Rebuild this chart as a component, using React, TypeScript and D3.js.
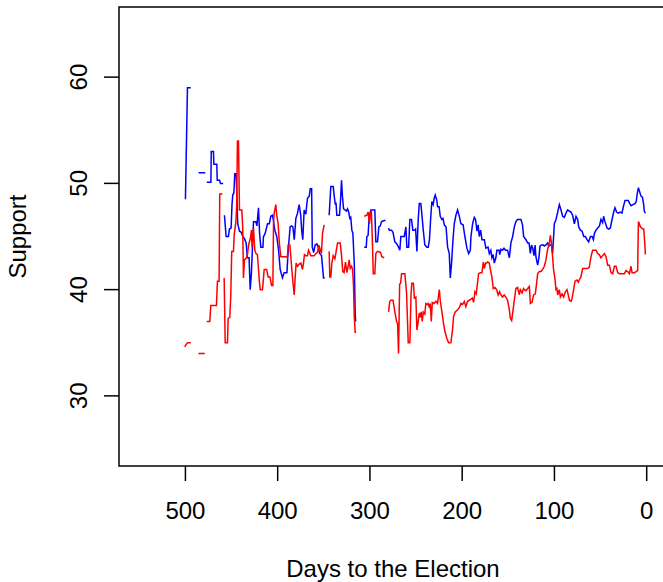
import React from "react";
import * as d3 from "d3";

type Pt = [number, number] | null;

// Democratic support (blue), [days to election, support]; null = gap
const demSeries: Pt[] = [
  [500, 48.5], [497.8, 59.0], [494.2, 59.0], null,
  [485.7, 51.0], [478.5, 51.0], null,
  [476.9, 50.1], [472.4, 50.1], [472, 53.0], [469.6, 53.0], [469.2, 51.8], [466, 51.8], [465.5, 50.3], [463, 50.3], [462, 50.0], [459.1, 50.0], null,
  [457.7, 47.0], [455.9, 45.0], [453.4, 45.0], [452.3, 45.7], [450.5, 45.8], [449.5, 48.0], [448.7, 48.9], [447.5, 49.1], [446.5, 50.9], [445, 50.9],
  [443.3, 46.2], [441.4, 45.5], [439.5, 45.4], [437.8, 45.0], [436, 44.8], [434.2, 44.4], [432.8, 43.0], [431, 43.0], [429.8, 40.0], [428.5, 41.5],
  [427.3, 44.0], [426.2, 46.4], [423.7, 46.4], [422.5, 46.0], [420.8, 47.7], [419.6, 45.3], [418.3, 44.0], [416, 44.0], [415.4, 45.0], [414, 45.2],
  [413, 45.5], [411, 46.2], [409, 46.2], [407.5, 46.9], [405.6, 47.0], [404.6, 46.5], [403.1, 45.6], [401, 45.0], [399, 43.7], [397.3, 41.9],
  [394.8, 41.1], [393, 41.6], [390, 41.6], [388.6, 43.7], [386.5, 45.9], [385, 46.0], [383.5, 45.9], [382, 44.7], [380.3, 46.7], [378.5, 47.2],
  [376.7, 48.0], [375, 47.0], [374, 45.6], [372.8, 44.7], [371.3, 47.5], [369.5, 47.1], [367.7, 48.6], [365.8, 48.8], [364.7, 49.5], [363.2, 49.5],
  [362.5, 44.0], [361, 43.5], [359.4, 44.2], [357.5, 44.3], [355.7, 43.9], [354.5, 43.4], [352.5, 43.2], [350.3, 41.1], [349, 41.1], null,
  [344.2, 47.0], [342.4, 49.7], [339.8, 49.7], [338.7, 48.8], [337.5, 48.0], [336.8, 48.2], [335.9, 47.0], [333, 47.0], [331.8, 48.5], [330.8, 50.3],
  [329.8, 48.8], [328.6, 47.6], [327, 47.5], [325.5, 47.4], [324.3, 47.6], [323, 47.3], [321.8, 46.7], [320.8, 46.8], [319.6, 45.6], [318.5, 45.3],
  [317, 42.5], [316, 37.8], [315.5, 37.0], null,
  [306.2, 44.0], [304, 44.0], [303.3, 45.0], [302, 45.1], [300.8, 46.9], [299, 47.5], [294.7, 47.5], [293.6, 44.5], [291.8, 44.5], [290.3, 45.9],
  [288.8, 46.0], [287.4, 46.4], [284.5, 46.5], [283, 46.5], null,
  [279.8, 45.8], [279, 45.6], [276.6, 45.6], [275, 45.4], [273, 44.5], [270.8, 44.3], [269, 44.0], [267.6, 43.7], [266.5, 45.0], [262.8, 45.0],
  [261, 45.9], [260, 44.0], [258.1, 44.0], [256.7, 46.6], [254.9, 46.6], [253.5, 45.6], [251.5, 45.6], [250.5, 45.7], [249.1, 43.6], [247.6, 46.7],
  [246.5, 48.1], [244.8, 48.1], [243.5, 46.9], [242.2, 45.6], [240.5, 44.2], [238.3, 44.0], [236.8, 44.0], [235.5, 44.7], [234, 46.9], [232.9, 48.3],
  [231.5, 48.0], [230.3, 48.6], [229.2, 48.9], [227.5, 48.4], [226.7, 47.8], [225, 47.8], [223.8, 46.9], [222, 46.6], [220.8, 46.7], [219.4, 46.1],
  [217.5, 45.9], [215.8, 44.0], [214, 43.4], [212.9, 41.1], [211.5, 42.5], [210, 44.7], [208.6, 46.2], [206.8, 47.0], [205, 47.5], [203.1, 46.9],
  [201.4, 46.2], [199, 46.1], [197.1, 45.0], [194.9, 43.9], [193, 43.4], [191.2, 43.7], [190.5, 45.0], [188.7, 46.2], [186.9, 46.8], [185.5, 46.6],
  [184, 45.5], [182.7, 46.1], [181.5, 45.0], [180, 45.6], [178.6, 44.7], [176, 44.7], [174.3, 43.9], [172, 44.0], [170.6, 43.4], [169, 43.7],
  [167.8, 43.0], [166.5, 43.3], [165.2, 42.5], [163.5, 43.0], [162.4, 43.7], [160, 43.7], [159.3, 43.3], [158, 43.8], [156.4, 43.7], [154.7, 43.9],
  [153, 43.7], [150.8, 43.7], [148.9, 43.0], [147.2, 44.4], [145.3, 45.0], [143.5, 45.9], [141.8, 46.4], [140, 46.6], [136.3, 46.6], [134.6, 46.1],
  [133.4, 45.0], [130.9, 44.7], [129, 44.4], [127.5, 44.4], [126.1, 43.4], [124.8, 44.2], [123.5, 43.9], [122.2, 43.2], [121, 44.2], [120.1, 43.1],
  [118.2, 42.3], [116.8, 43.0], [115.7, 44.1], [114, 44.2], [112, 44.2], [111, 44.1], [109.2, 44.2], [107.4, 44.4], [106, 44.1], [104.7, 44.2],
  [103.3, 44.2], [102, 43.4], [100.1, 46.2], [98.3, 46.6], [96.5, 47.3], [94.7, 48.0], [92.9, 47.5], [91.1, 46.9], [89.3, 46.8], [87.5, 47.2],
  [85.7, 47.5], [84, 47.4], [82.1, 47.3], [80.3, 47.0], [78.4, 46.2], [76.6, 46.9], [74.8, 46.6], [73.7, 45.9], [71.9, 45.6], [70, 45.5],
  [68.3, 45.0], [66.5, 45.0], [64.7, 44.7], [62.9, 44.5], [61, 45.0], [59.2, 45.0], [57.8, 44.7], [56.7, 45.3], [55, 45.6], [53.1, 45.8],
  [51.2, 46.0], [49.6, 46.6], [47.8, 46.3], [46.7, 46.9], [45.2, 46.4], [43, 45.8], [41.2, 45.7], [39.4, 45.8], [37.6, 46.6], [35.8, 47.3],
  [34.4, 47.7], [32.6, 47.3], [30.7, 47.2], [28.8, 47.3], [26.8, 47.2], [25.3, 47.8], [23.5, 48.4], [21.7, 48.4], [19.9, 48.4], [18.4, 48.1],
  [16.9, 47.9], [15, 48.0], [12.7, 48.1], [11.3, 48.3], [10.5, 48.9], [9, 49.6], [7.6, 49.2], [6.2, 48.8], [4.6, 48.7], [3.3, 48.0],
  [2.6, 47.4], [1.4, 47.2],
];

// Republican support (red)
const repSeries: Pt[] = [
  [500.7, 34.6], [499.5, 34.8], [497.8, 35.0], [494.2, 35.0], null,
  [485.9, 34.0], [479, 34.0], null,
  [476.9, 37.0], [473.6, 37.0], [472.5, 38.5], [466.4, 38.5], [465.3, 40.8], [463.5, 40.8], [462.8, 49.0], [459.9, 49.0], null,
  [458, 41.1], [456.9, 35.0], [454.4, 35.0], [453.7, 37.3], [451.9, 37.4], [450.9, 39.3], [449.8, 43.6], [447.9, 43.6], [447.2, 45.1], [445.4, 46.3],
  [444.5, 47.8], [443.6, 54.0], [442.5, 54.0], [441.4, 47.5], [438.9, 47.5], [437.9, 45.9], [437.1, 41.1], [436, 42.8], [433.8, 43.0], [432.8, 43.3],
  [431.5, 44.2], [429.2, 45.0], [428.5, 45.6], [427.8, 44.0], [426.2, 45.8], [424.8, 43.7], [423.5, 43.4], [422, 43.3], [421, 42.2], [420, 40.9],
  [418.9, 40.0], [416.5, 40.0], [415.6, 40.9], [414.6, 41.9], [412, 41.9], [410.3, 41.2], [408.3, 41.2], [406.7, 40.4], [405.2, 40.4], [404.5, 46.3],
  [403.8, 47.2], [402, 48.0], [401, 47.0], [399.5, 46.2], [398.2, 44.4], [396.6, 43.1], [391.2, 43.1], [389.6, 43.0], [388.6, 44.2], [386.8, 44.2],
  [385.5, 42.8], [384.3, 41.5], [383, 40.3], [382.1, 39.5], [381, 41.2], [380, 42.5], [378.5, 42.2], [376.7, 42.4], [374.9, 42.5], [373.1, 41.9],
  [372, 42.5], [371, 43.3], [369.5, 43.2], [367.7, 43.2], [366.6, 43.7], [364.1, 43.2], [362.3, 43.2], [360.5, 43.2], [358.6, 43.4], [356.8, 43.5],
  [355.5, 44.2], [354, 43.8], [352.6, 43.4], [351.4, 45.3], [349.6, 46.1], null,
  [344.2, 43.6], [343.5, 41.2], [342.4, 41.2], [341.3, 42.5], [339.8, 43.2], [338, 42.9], [336.8, 43.5], [335.1, 44.4], [332.2, 44.4], [330.8, 43.2],
  [329.4, 41.7], [328, 41.6], [326.5, 42.6], [325, 41.6], [323.6, 42.2], [322.5, 42.8], [321.4, 42.0], [320, 42.2], [318.8, 41.9], [317.8, 40.3],
  [317, 37.5], [316, 36.0], [314.9, 36.0], null,
  [306.2, 46.9], [303.3, 47.0], [302, 47.3], [300.4, 46.2], [299.6, 47.3], [298.5, 47.4], [297.5, 45.0], [296.4, 41.5], [294.7, 41.5], [293.6, 43.4],
  [291.8, 43.6], [288.5, 43.5], [287.1, 43.1], [284.5, 43.0], null,
  [279.8, 37.9], [278.5, 38.9], [277.3, 39.0], [275, 39.0], [273, 37.9], [271.1, 37.0], [270, 36.8], [269, 34.0], [267.8, 40.5], [266.8, 40.6],
  [265.7, 41.5], [262.1, 41.5], [260.3, 39.7], [258.5, 35.0], [256.7, 35.0], [255.5, 39.5], [254.6, 40.6], [252.9, 40.6], [251.8, 39.2], [250.2, 39.3],
  [249.1, 36.2], [248, 36.8], [246.5, 37.8], [245.4, 37.4], [244.4, 37.9], [243.3, 37.0], [242.2, 37.9], [240.5, 37.7], [239.4, 38.7], [238, 38.6],
  [237, 38.7], [235.8, 38.4], [234.6, 38.7], [233.5, 37.0], [232.4, 38.8], [230.3, 38.7], [228.5, 38.9], [226.7, 38.7], [224.8, 40.0], [223.8, 39.0],
  [222, 37.9], [220.2, 36.8], [218.8, 36.1], [216.6, 35.4], [214.8, 35.0], [212.3, 35.0], [210.5, 36.2], [209.3, 37.5], [207.5, 37.9], [205, 38.1],
  [203.1, 38.3], [201.4, 38.7], [199.6, 38.6], [197.7, 38.9], [196, 38.4], [194.2, 38.9], [192.3, 39.0], [190.5, 39.1], [189, 39.2], [187.6, 38.8],
  [186.2, 39.8], [184.8, 39.6], [183.7, 40.4], [182.2, 41.5], [180.4, 41.6], [178.6, 41.6], [177.1, 42.6], [176, 42.0], [174.6, 42.5], [173.5, 42.5],
  [172.5, 42.6], [170.6, 42.5], [169.5, 41.9], [167.8, 41.2], [166.3, 40.1], [164.5, 40.2], [162.7, 40.0], [161, 39.5], [159.5, 39.8], [158, 39.5],
  [156.3, 39.3], [154.5, 39.5], [152.6, 39.3], [150.8, 39.0], [148.9, 38.1], [147.8, 37.3], [146.4, 37.1], [145, 38.0], [143.5, 39.0], [141.8, 40.1],
  [140, 40.2], [138, 39.5], [137, 40.0], [135, 39.7], [133.5, 40.1], [132.5, 40.0], [130.9, 39.9], [129, 40.1], [127.2, 40.3], [126.1, 38.7],
  [124.3, 38.8], [122.6, 39.5], [120.8, 39.6], [119.6, 40.4], [118.2, 41.5], [116.4, 41.7], [114.5, 41.7], [112.8, 41.9], [111, 42.2], [109.2, 42.8],
  [107.4, 43.8], [105.5, 44.4], [104.4, 45.1], [103.3, 44.4], [102, 43.1], [101, 41.9], [99.6, 41.1], [98.3, 40.0], [97.3, 40.1], [96.5, 39.5],
  [94.7, 40.0], [93.6, 39.3], [91.8, 39.6], [90, 39.3], [88.2, 39.8], [86.4, 40.0], [85.3, 39.6], [83.8, 39.0], [82, 38.9], [80.8, 39.2],
  [79.2, 40.0], [77.7, 40.8], [75.6, 40.9], [74.1, 40.7], [72.6, 41.0], [71.3, 41.2], [69.4, 42.0], [66, 42.0], [64, 42.0], [62.3, 42.1],
  [60.4, 43.1], [58.6, 43.7], [55, 43.7], [53.1, 43.4], [51.4, 43.3], [49.6, 43.0], [47.8, 43.2], [45.9, 43.4], [44.1, 43.1], [42.3, 42.3],
  [40.5, 42.3], [38.7, 41.6], [36.9, 41.5], [35, 42.2], [33.2, 42.2], [31.5, 41.6], [29.7, 41.5], [26, 41.5], [24.2, 41.5], [22.4, 41.8],
  [20.6, 41.7], [18.8, 41.5], [17, 42.2], [15.9, 41.6], [13.3, 41.6], [11.5, 41.7], [9.8, 41.8], [9, 46.4], [7.9, 46.2], [6.8, 45.9],
  [5.3, 45.8], [4.3, 45.7], [3.2, 45.7], [2.3, 44.6], [1.4, 43.3],
];

const xTicks = [500, 400, 300, 200, 100, 0];
const yTicks = [30, 40, 50, 60];
const xLabel = "Days to the Election";
const yLabel = "Support";

const W = 663;
const H = 582;
const left = 119, right = 667, top = 7, bottom = 466;

export default function App() {
  const x = d3.scaleLinear().domain([572, -22]).range([left, right]);
  const y = d3.scaleLinear().domain([23.4, 66.6]).range([bottom, top]);
  const line = d3
    .line<Pt>()
    .defined((d) => d !== null)
    .x((d) => x((d as [number, number])[0]))
    .y((d) => y((d as [number, number])[1]));

  const font = "'Liberation Sans', Arial, Helvetica, sans-serif";
  return (
    <svg
      width={W}
      height={H}
      style={{ position: "absolute", left: 0, top: 0, background: "#fff" }}
      fontFamily={font}
    >
      <rect x={0} y={0} width={W} height={H} fill="#fff" />
      <path d={line(demSeries) || ""} fill="none" stroke="#0000FF" strokeWidth={1.5} />
      <path d={line(repSeries) || ""} fill="none" stroke="#FF0000" strokeWidth={1.5} />
      <rect
        x={left}
        y={top}
        width={right - left}
        height={bottom - top}
        fill="none"
        stroke="#000"
        strokeWidth={1.5}
      />
      {xTicks.map((t) => (
        <g key={"x" + t}>
          <line x1={x(t)} x2={x(t)} y1={bottom} y2={bottom + 15} stroke="#000" strokeWidth={1.5} />
          <text x={x(t)} y={519} textAnchor="middle" fontSize={24} fill="#000">
            {t}
          </text>
        </g>
      ))}
      {yTicks.map((t) => (
        <g key={"y" + t}>
          <line x1={left} x2={left - 15} y1={y(t)} y2={y(t)} stroke="#000" strokeWidth={1.5} />
          <text
            transform={`translate(87,${y(t)}) rotate(-90)`}
            textAnchor="middle"
            fontSize={24}
            fill="#000"
          >
            {t}
          </text>
        </g>
      ))}
      <text x={(left + right) / 2} y={577} textAnchor="middle" fontSize={24} fill="#000">
        {xLabel}
      </text>
      <text
        transform={`translate(26,${(top + bottom) / 2}) rotate(-90)`}
        textAnchor="middle"
        fontSize={24}
        fill="#000"
      >
        {yLabel}
      </text>
    </svg>
  );
}
